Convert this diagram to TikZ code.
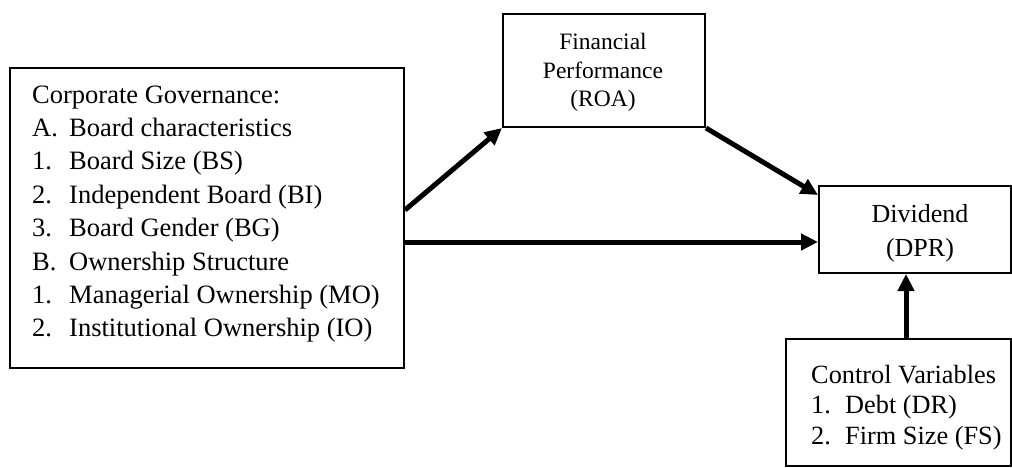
\documentclass[tikz,border=0pt]{standalone}
\usepackage{fontspec}
\setmainfont{Liberation Serif}
\usetikzlibrary{arrows.meta}
\begin{document}
\begin{tikzpicture}[x=1pt,y=-1pt,
  box/.style={draw, line width=2pt, rectangle, inner sep=0pt},
  lbl/.style={inner sep=0pt, anchor=base west, font=\fontsize{26.5}{32}\selectfont},
  clbl/.style={inner sep=0pt, anchor=base west, font=\fontsize{26.3}{32}\selectfont},
  ctr/.style={inner sep=0pt, anchor=base, font=\fontsize{23.5}{28}\selectfont},
  dctr/.style={inner sep=0pt, anchor=base, font=\fontsize{26}{32}\selectfont},
  arr/.style={line width=5pt, -{Triangle[length=17pt,width=16pt]}}]
\useasboundingbox (0,0) rectangle (1012,468);

% boxes
\node[box, minimum width=394pt, minimum height=300pt] (lb) at (207,218) {};
\node[box, minimum width=202pt, minimum height=113pt] (fin) at (604,70.5) {};
\node[box, minimum width=192pt, minimum height=87pt] (div) at (915,229.5) {};
\node[box, minimum width=225pt, minimum height=127pt] (ctl) at (898.5,402.5) {};

% left box text
\node[lbl] (l1) at (32,103.3) {Corporate Governance:};
\node[lbl] (l2a) at (32,136.7) {A.};
\node[lbl] (l2b) at (69,136.7) {Board characteristics};
\node[lbl] (l3a) at (32,170) {1.};
\node[lbl] (l3b) at (69,170) {Board Size (BS)};
\node[lbl] (l4a) at (32,203.3) {2.};
\node[lbl] (l4b) at (69,203.3) {Independent Board (BI)};
\node[lbl] (l5a) at (32,236.7) {3.};
\node[lbl] (l5b) at (69,236.7) {Board Gender (BG)};
\node[lbl] (l6a) at (32,270) {B.};
\node[lbl] (l6b) at (69,270) {Ownership Structure};
\node[lbl] (l7a) at (32,303.3) {1.};
\node[lbl] (l7b) at (69,303.3) {Managerial Ownership (MO)};
\node[lbl] (l8a) at (32,336.7) {2.};
\node[lbl] (l8b) at (69,336.7) {Institutional Ownership (IO)};

% financial text
\node[ctr] (f1) at (603,50) {Financial};
\node[ctr] (f2) at (603,78.5) {Performance};
\node[ctr] (f3) at (603,107) {(ROA)};

% dividend text
\node[dctr] (d1) at (920,222) {Dividend};
\node[dctr] (d2) at (920,256) {(DPR)};

% control text
\node[clbl] (c1) at (811,383) {Control Variables};
\node[clbl] (c2a) at (811,413) {1.};
\node[clbl] (c2b) at (845,413) {Debt (DR)};
\node[clbl] (c3a) at (811,444) {2.};
\node[clbl] (c3b) at (845,444) {Firm Size (FS)};

% connectors
\coordinate (ua) at (906,0);
\draw[arr] ([yshift=8pt]lb.east) -- (fin.south west);
\draw[arr] ([yshift=-24pt]lb.east) -- ([yshift=-24pt]lb.east -| div.west);
\draw[arr] (fin.south east) -- ([yshift=-10pt]div.north west);
\draw[arr] (ctl.north -| ua) -- (div.south -| ua);
\end{tikzpicture}
\end{document}
